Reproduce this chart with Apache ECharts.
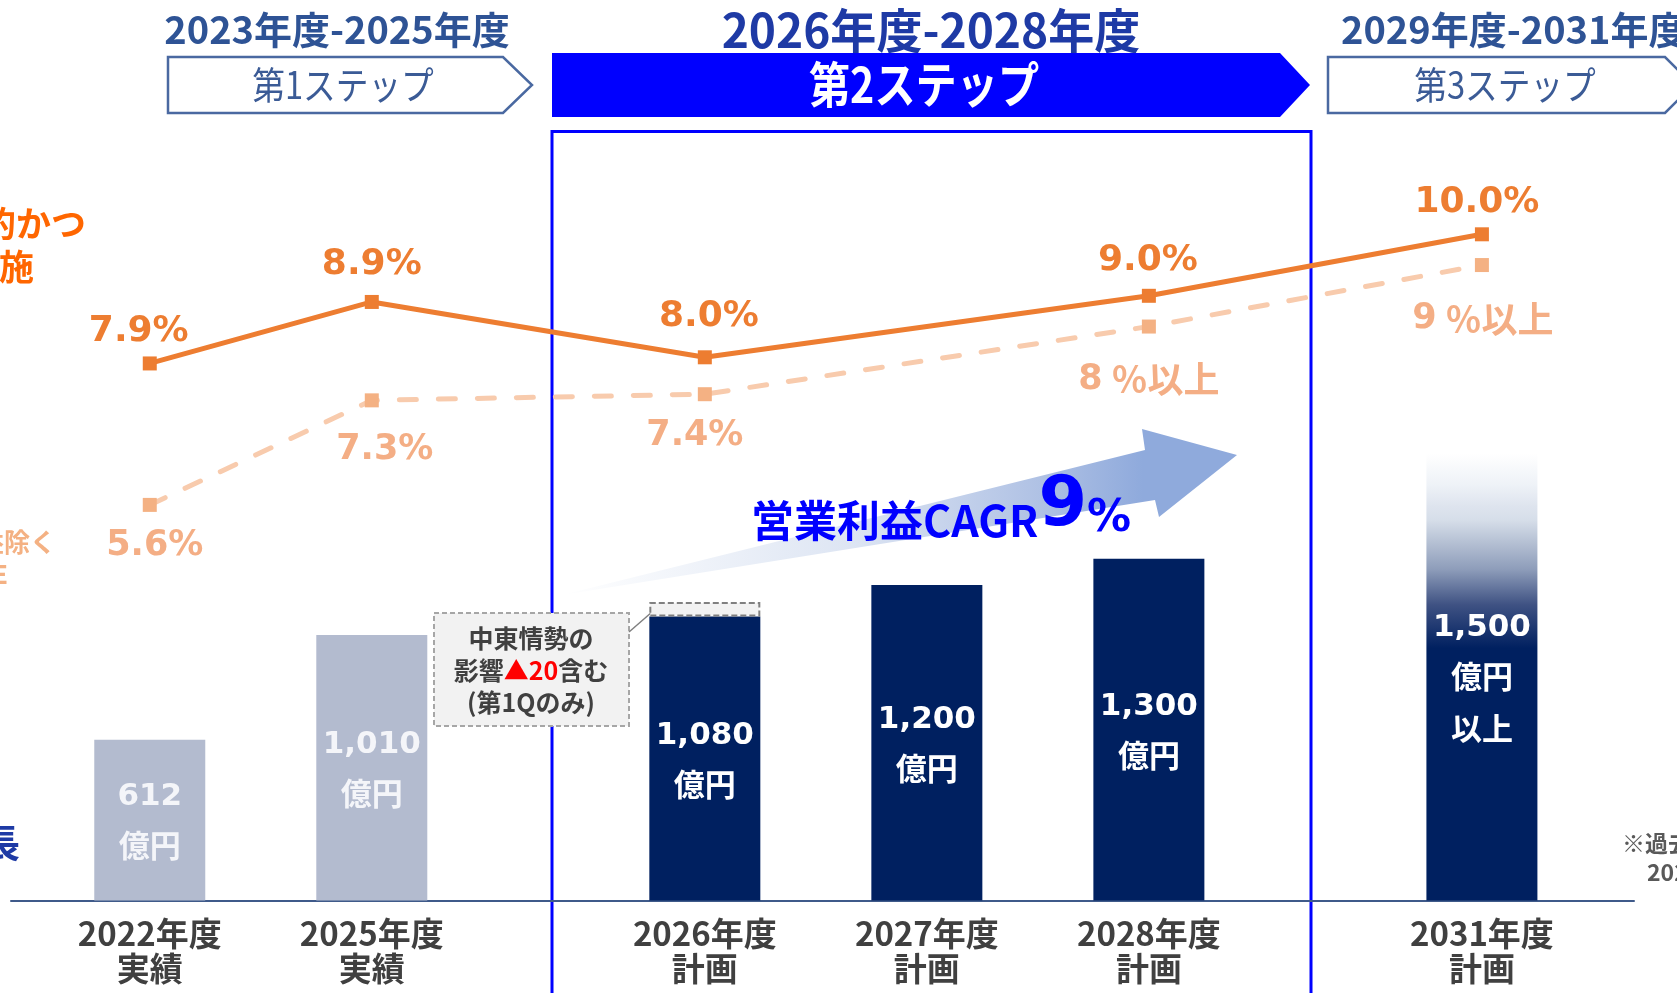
<!DOCTYPE html>
<html lang="ja">
<head>
<meta charset="UTF-8">
<title>営業利益とROEの推移</title>
<script src="https://cdn.jsdelivr.net/npm/echarts@6.0.0/dist/echarts.min.js"></script>
<style>
  html, body { margin: 0; padding: 0; background: #fff; }
  #main { width: 1677px; height: 993px; }
</style>
</head>
<body>
<div id="main"></div>
<script>
// ---- データ ----
var xPos = [0, 2, 5, 7, 9, 12];          // 横軸上の位置（ステップ間に間隔）
var years = ['2022年度', '2025年度', '2026年度', '2027年度', '2028年度', '2031年度'];
var kinds = ['実績', '実績', '計画', '計画', '計画', '計画'];
var profit = [612, 1010, 1080, 1200, 1300, 1500];        // 営業利益（億円）
var profitLabels = ['612', '1,010', '1,080', '1,200', '1,300', '1,500'];
var profitSuffix = ['', '', '', '', '', '以上'];
var mideastBox = [0, 0, 55, 0, 0, 0];     // 中東情勢の影響（点線枠）
var fadeTop = [0, 0, 0, 0, 0, 200];       // 「以上」のぼかし部分

var roeIdx = [0, 1, 2, 4, 5];              // ROEの点がある年度
var roe = [7.9, 8.9, 8.0, 9.0, 10.0];
var roeEx = [5.6, 7.3, 7.4, 8.5, 9.5];
var roeExLabels = ['5.6%', '7.3%', '7.4%', '8％以上', '9％以上'];

var CJK = '"Noto Sans CJK JP", sans-serif';
var NUM = '"DejaVu Sans", "Noto Sans CJK JP", sans-serif';
var NAVY = '#002060';

var chart = echarts.init(document.getElementById('main'));

// 棒（積み上げのため値を先頭の次元に置く）
var profitData = profit.map(function (v, i) {
  var actual = kinds[i] === '実績';
  var item = {
    value: [v, xPos[i]],
    itemStyle: { color: actual ? '#B3BBCF' : NAVY },
    label: { color: actual ? '#F4F5F9' : '#FFFFFF' }
  };
  if (fadeTop[i] > 0) {
    item.itemStyle.color = new echarts.graphic.LinearGradient(0, 0, 0, 1, [
      { offset: 0, color: '#DEE4EE' },
      { offset: 0.035, color: '#D6DEE9' },
      { offset: 0.16, color: '#8E9DBA' },
      { offset: 0.25, color: '#3F5283' },
      { offset: 0.36, color: NAVY },
      { offset: 1, color: NAVY }
    ]);
    item.label.offset = [0, -23];
  }
  return item;
});
var mideastData = mideastBox.map(function (v, i) { return [v > 0 ? v : '-', xPos[i]]; });
var fadeData = fadeTop.map(function (v, i) { return [v > 0 ? v : '-', xPos[i]]; });

// 折れ線のラベル微調整
var roeShift = [[-11, 3], [0, -2], [4, -6], [-1, 0], [-5, 3]];
var roeExShift = [[5, 0], [13, 8], [-10, 0], [0, 11], [1, 12]];

var roeData = roeIdx.map(function (k, j) {
  return { value: [xPos[k], roe[j]], label: { offset: roeShift[j] } };
});
var roeExData = roeIdx.map(function (k, j) {
  return { value: [xPos[k], roeEx[j]], label: { offset: roeExShift[j] } };
});

function txt(x, y, text, o) {
  o = o || {};
  return {
    type: 'text', x: x, y: y, z: o.z || 1,
    scaleX: o.scaleX || 1,
    style: {
      text: text,
      fontSize: o.size || 30,
      fontWeight: o.weight || 'bold',
      fontFamily: o.family || CJK,
      fill: o.color || '#404040',
      align: o.align || 'center', textAlign: o.align || 'center',
      verticalAlign: 'middle', textVerticalAlign: 'middle',
      lineHeight: o.lineHeight,
      rich: o.rich
    }
  };
}

var graphics = [
  // ステップ見出し
  txt(337, 30, '2023年度-2025年度', { size: 38, color: '#2E5395' }),
  { type: 'polygon', z: 1, shape: { points: [[168, 57], [503, 57], [532, 85], [503, 113], [168, 113]] },
    style: { fill: '#FFFFFF', stroke: '#4A69A1', lineWidth: 2.5 } },
  txt(343, 85, '第1ステップ', { size: 38, weight: 'normal', color: '#3B5B96', scaleX: 0.86 }),

  txt(931, 30, '2026年度-2028年度', { size: 47, color: '#1E3AA5', scaleX: 0.98 }),
  { type: 'polygon', z: 1, shape: { points: [[552, 53], [1280, 53], [1310, 85], [1280, 117], [552, 117]] },
    style: { fill: '#0000FF' } },
  txt(924, 84, '第2ステップ', { size: 49, color: '#FFFFFF', scaleX: 0.84 }),

  txt(1341, 30, '2029年度-2031年度', { size: 38, color: '#2E5395', align: 'left' }),
  { type: 'polygon', z: 1, shape: { points: [[1328, 57], [1665, 57], [1693, 85], [1665, 113], [1328, 113]] },
    style: { fill: '#FFFFFF', stroke: '#4A69A1', lineWidth: 2.5 } },
  txt(1505, 85, '第3ステップ', { size: 38, weight: 'normal', color: '#3B5B96', scaleX: 0.86 }),

  // 第2ステップ枠
  { type: 'rect', z: 0, shape: { x: 552, y: 131.5, width: 759, height: 900 },
    style: { fill: 'none', stroke: '#0000FF', lineWidth: 3 } },

  // CAGR矢印
  { type: 'polygon', z: 1,
    shape: { points: [[562, 595], [1145, 450], [1142, 429], [1237, 455], [1159, 517], [1155, 500]] },
    style: { fill: new echarts.graphic.LinearGradient(0, 0, 1, 0, [
      { offset: 0, color: '#FFFFFF' },
      { offset: 0.43, color: '#DDE5F3' },
      { offset: 0.71, color: '#AFC1E4' },
      { offset: 0.86, color: '#8FAADC' },
      { offset: 1, color: '#8FAADC' }
    ]) } },
  {
    type: 'text', x: 751, y: 542, z: 2,
    style: {
      text: '{a|営業利益CAGR}{b|9}{c|%}',
      align: 'left', textAlign: 'left', verticalAlign: 'bottom', textVerticalAlign: 'bottom',
      fill: '#0000FF',
      rich: {
        a: { fontSize: 43, fontWeight: 'bold', fontFamily: CJK, fill: '#0000FF', verticalAlign: 'bottom' },
        b: { fontSize: 70, fontWeight: 'bold', fontFamily: NUM, fill: '#0000FF', verticalAlign: 'bottom' },
        c: { fontSize: 44, fontWeight: 'bold', fontFamily: NUM, fill: '#0000FF', verticalAlign: 'bottom' }
      }
    }
  },

  // 中東情勢の注記
  { type: 'rect', z: 1, shape: { x: 434, y: 613, width: 195, height: 113 },
    style: { fill: '#F2F2F2', stroke: '#A6A6A6', lineWidth: 2, lineDash: [5, 3] } },
  { type: 'line', z: 1, shape: { x1: 629, y1: 632, x2: 652, y2: 612 },
    style: { stroke: '#7F7F7F', lineWidth: 1.5 } },
  txt(531, 670, '中東情勢の\n影響{r|▲20}含む\n(第1Qのみ)', {
    size: 25, color: '#404040', lineHeight: 32,
    rich: { r: { fontSize: 25, fontWeight: 'bold', fontFamily: CJK, fill: '#FF0000', lineHeight: 32 } }
  }),

  // 左右の見切れ文字
  txt(86, 224, '機動的かつ', { size: 35, color: '#FF6600', align: 'right' }),
  txt(34, 267, '実施', { size: 35, color: '#FF6600', align: 'right' }),
  txt(56, 542, '特別損益除く', { size: 26, color: '#F4B183', align: 'right' }),
  txt(8, 574, 'ROE', { size: 26, color: '#F4B183', align: 'right' }),
  txt(20, 843, '成長', { size: 38, color: '#1E3AA5', align: 'right' }),
  txt(1622, 843, '※過去最高', { size: 23, color: '#595959', align: 'left' }),
  txt(1647, 872, '2025年度', { size: 23, color: '#595959', align: 'left' })
];

var barEncode = { x: 1, y: 0 };

var option = {
  animation: false,
  grid: [
    { left: 11, right: 43, top: 374.6, bottom: 92.4 },
    { left: 11, right: 43, top: 111.3, bottom: 143.7 }
  ],
  xAxis: [
    {
      type: 'value', gridIndex: 0, min: -1.25, max: 13.37,
      axisLine: { show: true, onZero: false, lineStyle: { color: '#3F5A8A', width: 2 } },
      axisTick: { show: false },
      splitLine: { show: false },
      axisLabel: {
        customValues: xPos,
        margin: 15,
        fontSize: 33, fontWeight: 'bold', fontFamily: CJK,
        color: '#404040', lineHeight: 35,
        formatter: function (v) {
          var i = xPos.indexOf(v);
          return i < 0 ? '' : years[i] + '\n' + kinds[i];
        }
      }
    },
    { type: 'value', gridIndex: 1, min: -1.25, max: 13.37, show: false }
  ],
  yAxis: [
    { type: 'value', gridIndex: 0, min: 0, max: 2000, show: false, splitLine: { show: false } },
    { type: 'value', gridIndex: 1, min: 0, max: 12, show: false, splitLine: { show: false } }
  ],
  series: [
    {
      name: '営業利益', type: 'bar', xAxisIndex: 0, yAxisIndex: 0,
      stack: 'op', barWidth: 111, data: profitData, encode: barEncode,
      label: {
        show: true, position: 'inside', offset: [0, 3],
        fontSize: 31, fontWeight: 'bold', fontFamily: NUM, lineHeight: 52,
        formatter: function (p) {
          var i = p.dataIndex;
          return profitLabels[i] + '\n億円' + (profitSuffix[i] ? '\n' + profitSuffix[i] : '');
        }
      }
    },
    {
      name: '中東情勢の影響', type: 'bar', xAxisIndex: 0, yAxisIndex: 0,
      stack: 'op', barWidth: 111, data: mideastData, encode: barEncode,
      itemStyle: { color: '#F2F2F2', borderColor: '#808080', borderWidth: 2, borderType: [6, 3] }
    },
    {
      name: '以上', type: 'bar', xAxisIndex: 0, yAxisIndex: 0,
      stack: 'op', barWidth: 111, data: fadeData, encode: barEncode,
      itemStyle: {
        color: new echarts.graphic.LinearGradient(0, 0, 0, 1, [
          { offset: 0, color: '#FFFFFF' },
          { offset: 0.6, color: '#EEF2F7' },
          { offset: 1, color: '#DEE4EE' }
        ])
      }
    },
    {
      name: 'ROE（特別損益除く）', type: 'line', xAxisIndex: 1, yAxisIndex: 1,
      data: roeExData, symbol: 'rect', symbolSize: 14, z: 3,
      lineStyle: { color: '#F8CBAD', width: 5, type: [17, 22], cap: 'round' },
      itemStyle: { color: '#F4B183' },
      label: {
        show: true, position: 'bottom', distance: 17,
        fontSize: 35, fontWeight: 'bold', fontFamily: NUM, color: '#F4AE85',
        formatter: function (p) {
          var s = roeExLabels[p.dataIndex];
          var k = s.indexOf('％');
          return k < 0 ? s : s.slice(0, k) + '{p|' + s.slice(k) + '}';
        },
        rich: { p: { fontSize: 36, fontWeight: 'bold', fontFamily: CJK, color: '#F4AE85', padding: [0, 0, 0, 9] } }
      }
    },
    {
      name: 'ROE', type: 'line', xAxisIndex: 1, yAxisIndex: 1,
      data: roeData, symbol: 'rect', symbolSize: 14, z: 4,
      lineStyle: { color: '#ED7D31', width: 5 },
      itemStyle: { color: '#ED7D31' },
      label: {
        show: true, position: 'top', distance: 10,
        fontSize: 36, fontWeight: 'bold', fontFamily: NUM, color: '#ED7D31',
        formatter: function (p) { return roe[p.dataIndex].toFixed(1) + '%'; }
      }
    }
  ],
  graphic: graphics
};

chart.setOption(option);
</script>
</body>
</html>
